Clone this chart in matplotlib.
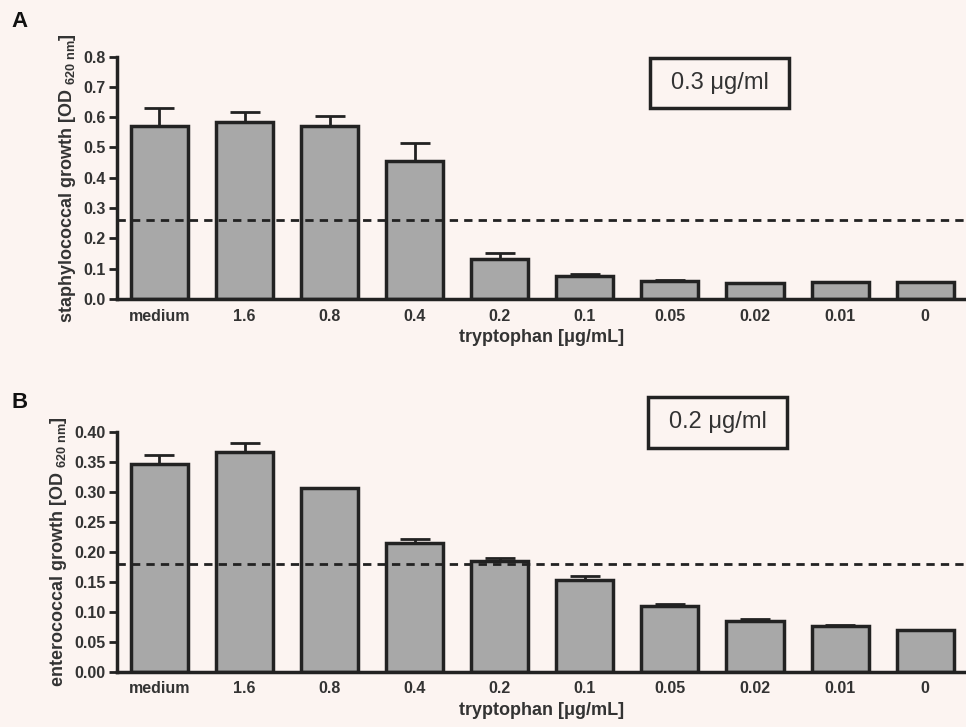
import matplotlib
matplotlib.use("Agg")
import matplotlib.pyplot as plt
from matplotlib.patches import Rectangle
import numpy as np

plt.rcParams["font.family"] = ["Liberation Sans", "DejaVu Sans"]
plt.rcParams["mathtext.fontset"] = "custom"
plt.rcParams["mathtext.rm"] = "Liberation Sans:bold"
plt.rcParams["mathtext.bf"] = "Liberation Sans:bold"

# data
categories = ["medium", "1.6", "0.8", "0.4", "0.2", "0.1", "0.05", "0.02", "0.01", "0"]

staph_mean = [0.572, 0.585, 0.570, 0.455, 0.130, 0.075, 0.060, 0.053, 0.057, 0.056]
staph_err = [0.058, 0.033, 0.035, 0.060, 0.022, 0.007, 0.002, 0.0, 0.0, 0.0]
staph_cutoff = 0.262

entero_mean = [0.347, 0.367, 0.306, 0.215, 0.184, 0.153, 0.110, 0.085, 0.077, 0.070]
entero_err = [0.014, 0.015, 0.0, 0.006, 0.006, 0.006, 0.003, 0.003, 0.001, 0.0]
entero_cutoff = 0.180

BG = "#fcf4f1"
INK = "#222222"
TXT = "#333333"


def panel(ax, means, errs, cutoff, ymax, step, fmt, ylabel):
    x = np.arange(len(categories))
    ax.set_facecolor(BG)
    ax.errorbar(x, means, yerr=errs, fmt="none", ecolor=INK,
                elinewidth=2, capsize=11, capthick=2, zorder=1)
    ax.bar(x, means, width=0.67, color="#a8a8a8", edgecolor=INK,
           linewidth=2.5, zorder=2)
    ax.axhline(cutoff, color=INK, linestyle=(0, (3, 2.2)), linewidth=2, zorder=3)
    ax.set_xlim(-0.5, 9.48)
    ax.set_ylim(0, ymax)
    ax.set_yticks(np.arange(0, ymax + step / 2, step))
    ax.yaxis.set_major_formatter(plt.FormatStrFormatter(fmt))
    ax.set_xticks(x)
    ax.set_xticklabels(categories, fontweight="bold", fontsize=11.5, color=TXT)
    for lab in ax.get_yticklabels():
        lab.set_fontweight("bold")
        lab.set_fontsize(11.5)
        lab.set_color(TXT)
    ax.tick_params(axis="x", length=0, pad=7)
    ax.tick_params(axis="y", length=6, width=2, direction="out", color=INK, pad=2)
    for s in ["top", "right"]:
        ax.spines[s].set_visible(False)
    for s in ["left", "bottom"]:
        ax.spines[s].set_linewidth(2.5)
        ax.spines[s].set_color(INK)
    ax.set_xlabel("tryptophan [μg/mL]", fontweight="bold",
                  fontsize=13, color=TXT, labelpad=4)
    ax.set_ylabel(ylabel, fontweight="bold", fontsize=13, color=TXT, labelpad=4)


def conc_box(fig, x0, y0, x1, y1, text):
    # box drawn in pixel positions of the figure (966x727)
    W, H = 966, 727
    fig.patches.append(Rectangle((x0 / W, 1 - y1 / H), (x1 - x0) / W, (y1 - y0) / H,
                                 transform=fig.transFigure, facecolor=BG,
                                 edgecolor=INK, linewidth=2.5, zorder=5))
    fig.text((x0 + x1) / 2 / W, 1 - (y0 + y1) / 2 / H, text, fontsize=17,
             color=TXT, ha="center", va="center", zorder=6)


fig = plt.figure(figsize=(9.66, 7.27), dpi=100, facecolor=BG)
ax1 = fig.add_axes([0.121, 0.589, 0.879, 0.333])
ax2 = fig.add_axes([0.121, 0.076, 0.879, 0.330])

panel(ax1, staph_mean, staph_err, staph_cutoff, 0.8, 0.1, "%.1f",
      r"staphylococcal growth [OD $_{\mathrm{620\ nm}}$]")
panel(ax2, entero_mean, entero_err, entero_cutoff, 0.40, 0.05, "%.2f",
      r"enterococcal growth [OD $_{\mathrm{620\ nm}}$]")

conc_box(fig, 650, 58, 789, 108, "0.3 μg/ml")
conc_box(fig, 648, 397, 787, 448, "0.2 μg/ml")

fig.text(0.012, 0.970, "A", fontsize=16, fontweight="bold", color="#111111", va="center")
fig.text(0.012, 0.447, "B", fontsize=16, fontweight="bold", color="#111111", va="center")

fig.savefig("out.png", dpi=100, facecolor=BG)
